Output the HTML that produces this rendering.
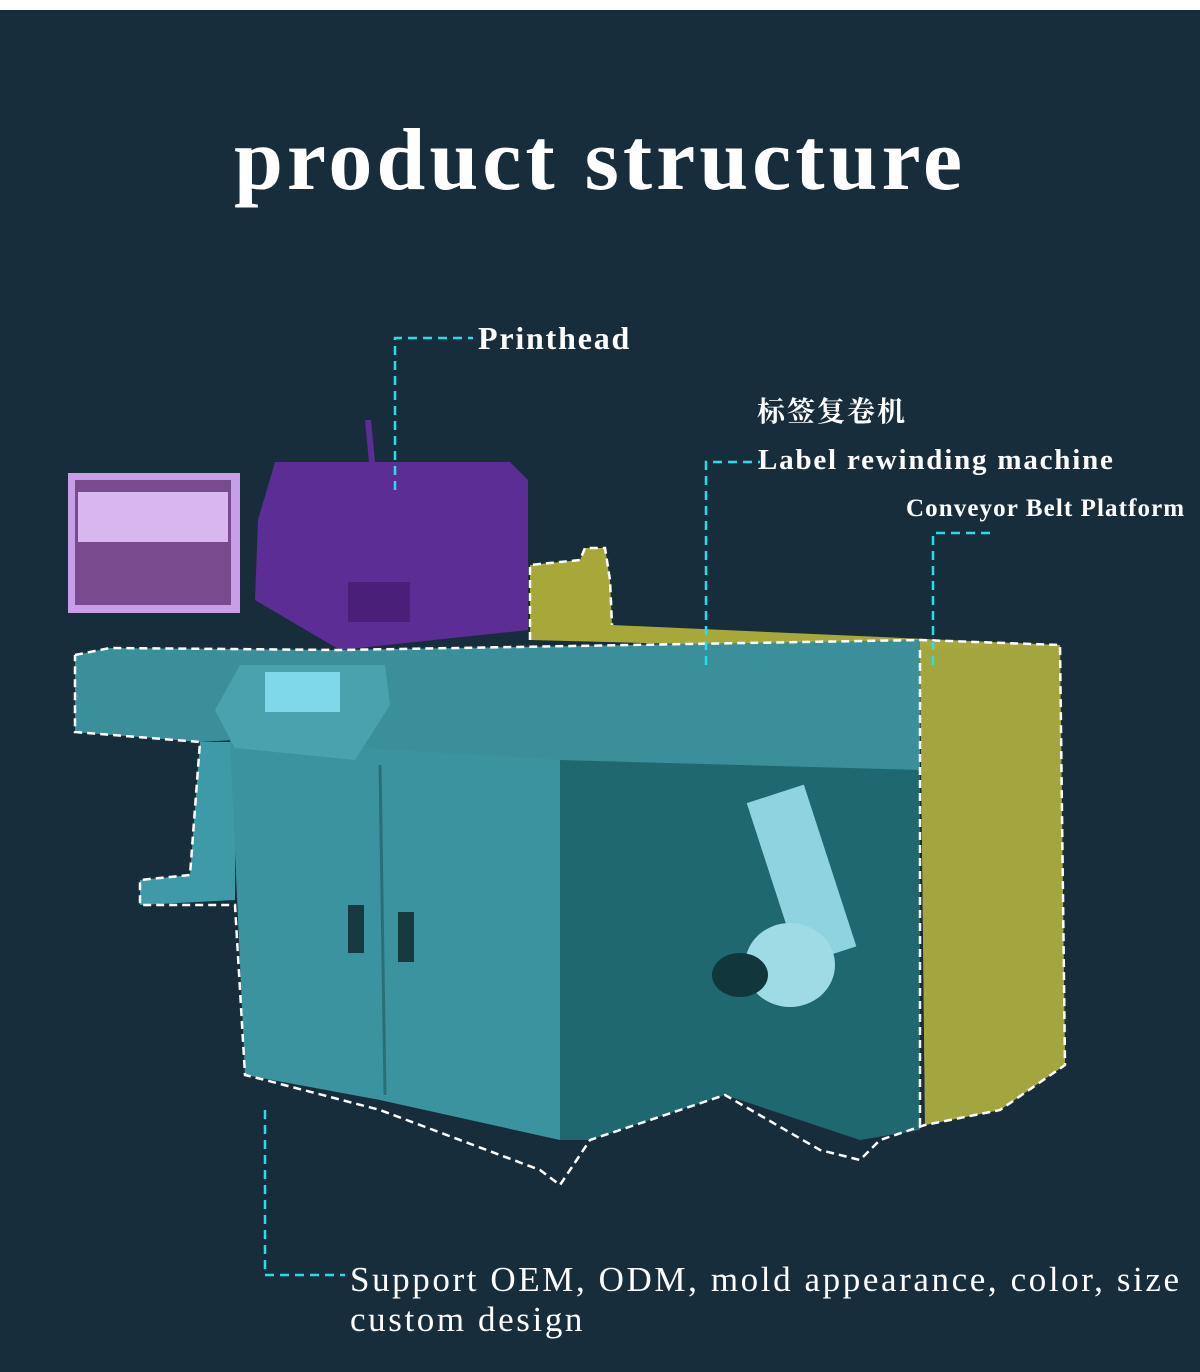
<!DOCTYPE html>
<html><head><meta charset="utf-8"><style>
html,body{margin:0;padding:0;}
body{width:1200px;height:1372px;background:#182d3b;position:relative;overflow:hidden;font-family:"Liberation Serif","Noto Serif CJK SC",serif;color:#fff;}
.top{position:absolute;left:0;top:0;width:1200px;height:10px;background:#fff;}
.t{position:absolute;white-space:nowrap;}
</style></head><body>
<div class="top"></div>
<div class="t" style="left:0;width:1200px;text-align:center;top:110px;font-size:88px;font-weight:bold;letter-spacing:4px;">product structure</div>
<svg width="1200" height="1372" style="position:absolute;left:0;top:0">
<polygon points="530,565 580,560 585,548 605,548 610,580 612,625 1060,645 1065,1065 1000,1110 925,1125 920,650 530,640" fill="#a8a83a"/>
<polygon points="920,650 1060,645 1065,1065 1000,1110 925,1125" fill="#a3a53e"/>
<polygon points="75,655 110,648 340,650 920,640 920,770 790,785 600,770 430,765 380,758 235,740 200,742 75,732" fill="#3a8f9a"/>
<polygon points="200,742 235,742 235,900 140,905 140,880 190,875" fill="#3e9aa6"/>
<polygon points="230,740 560,760 560,1140 380,1100 245,1075" fill="#3c93a0"/>
<polygon points="560,760 920,770 920,1130 860,1140 725,1095 590,1140 560,1140" fill="#1f6870"/>
<rect x="770" y="790" width="60" height="170" fill="#8fd3df" transform="rotate(-18 800 870)"/>
<ellipse cx="790" cy="965" rx="45" ry="42" fill="#9edbe5"/>
<ellipse cx="740" cy="975" rx="28" ry="22" fill="#11363c"/>
<polygon points="215,710 240,665 385,665 390,705 355,760 235,748" fill="#4aa2ae"/>
<rect x="265" y="672" width="75" height="40" fill="#7fd7ea"/>
<rect x="348" y="905" width="16" height="48" fill="#173a40"/>
<rect x="398" y="912" width="16" height="50" fill="#173a40"/>
<line x1="380" y1="765" x2="385" y2="1095" stroke="#2a6f78" stroke-width="3"/>
<polygon points="258,520 275,462 510,462 528,480 528,630 340,650 255,600" fill="#5c2d94"/>
<rect x="348" y="582" width="62" height="40" fill="#4a1f7a"/>
<line x1="368" y1="420" x2="372" y2="462" stroke="#5c2d94" stroke-width="6"/>
<rect x="68" y="473" width="172" height="140" fill="#c89ee8"/>
<rect x="75" y="480" width="156" height="125" fill="#7a4a8e"/>
<rect x="78" y="492" width="150" height="50" fill="#d8b7ef"/>
<g fill="none" stroke="#fff" stroke-width="2.5" stroke-dasharray="8,5">
<polyline points="75,655 110,648 340,650 920,640 1060,645 1065,1065 1000,1110 925,1125 880,1140 860,1160 820,1150 725,1095 590,1140 560,1185 540,1170 380,1110 265,1080 245,1075 235,905 140,905 140,880 190,875 200,742 75,732 75,655"/>
<polyline points="530,640 530,565 580,560 585,548 605,548 610,580 612,625"/>
<polyline points="920,650 920,1130"/>
</g>
<g fill="none" stroke="#22e0e8" stroke-width="2.5" stroke-dasharray="9,6">
<polyline points="395,490 395,338 473,338"/>
<polyline points="706,665 706,462 760,462"/>
<polyline points="933,665 933,533 990,533"/>
<polyline points="265,1110 265,1275 345,1275"/>
</g>
</svg>
<div class="t" style="left:478px;top:320px;font-size:32px;font-weight:bold;letter-spacing:1.8px;">Printhead</div>
<div class="t" style="left:757px;top:390px;font-size:28px;font-weight:bold;letter-spacing:2px;">标签复卷机</div>
<div class="t" style="left:758px;top:444px;font-size:29px;font-weight:bold;letter-spacing:1.8px;">Label rewinding machine</div>
<div class="t" style="left:906px;top:495px;font-size:25px;font-weight:bold;letter-spacing:1.1px;">Conveyor Belt Platform</div>
<div class="t" style="left:350px;top:1260px;font-size:35px;line-height:40px;letter-spacing:2.6px;">Support OEM, ODM, mold appearance, color, size<br>custom design</div>
</body></html>
